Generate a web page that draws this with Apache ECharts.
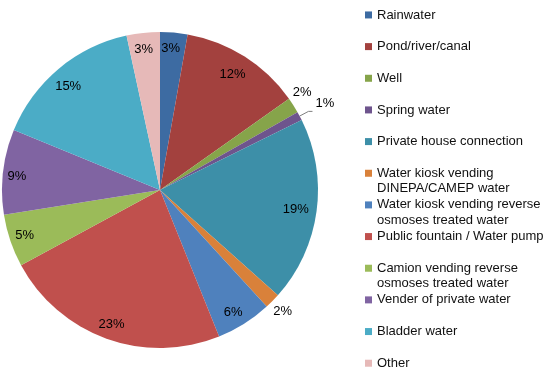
<!DOCTYPE html>
<html>
<head>
<meta charset="utf-8">
<script src="https://cdn.jsdelivr.net/npm/echarts@6/dist/echarts.min.js"></script>
<style>
html,body{margin:0;padding:0;background:#fff;}
#chart{width:552px;height:375px;}
</style>
</head>
<body>
<div id="chart"></div>
<script>
// ---- data ----
const categories = [
  'Rainwater',
  'Pond/river/canal',
  'Well',
  'Spring water',
  'Private house connection',
  'Water kiosk vending DINEPA/CAMEP water',
  'Water kiosk vending reverse osmoses treated water',
  'Public fountain / Water pump',
  'Camion vending reverse osmoses treated water',
  'Vender of private water',
  'Bladder water',
  'Other'
];
const legendLabels = [
  'Rainwater',
  'Pond/river/canal',
  'Well',
  'Spring water',
  'Private house connection',
  'Water kiosk vending\nDINEPA/CAMEP water',
  'Water kiosk vending reverse\nosmoses treated water',
  'Public fountain / Water pump',
  'Camion vending reverse\nosmoses treated water',
  'Vender of private water',
  'Bladder water',
  'Other'
];
const shares = [2.8, 12.4, 1.6, 0.9, 18.9, 1.6, 5.7, 23.2, 5.4, 8.7, 15.4, 3.4];

// ---- styles ----
const colors = ['#3D6BA2','#A3413E','#86A44A','#6E548D','#3D8FA8','#D9813A',
                '#4F81BD','#C0504D','#9BBB59','#8064A2','#4BACC6','#E6B9B8'];
const outsideSet = [2, 3, 5];
const outsideShift = {2: [-9, -11], 3: [-2, -8], 5: [-7, 8]};
const outsideLine = {2: [4, 0], 3: [10, 4], 5: [4, 0]};
const insideShift = {0: [-2, 1], 1: [-4, 5], 4: [-6, 0], 6: [-3, 1], 9: [-1, 3], 10: [0, 6], 11: [-1, 2]};
const FONT = 'Liberation Sans, Arial, sans-serif';
const CENTER = [160, 190];
const R = 158;

const pct = p => Math.round(p.percent) + '%';

const mainData = categories.map((name, i) => {
  const out = outsideSet.indexOf(i) >= 0;
  return {
    name: name,
    value: shares[i],
    itemStyle: { color: colors[i] },
    label: { show: out },
    labelLine: out ? { show: i === 3, length: outsideLine[i][0], length2: outsideLine[i][1] } : { show: false }
  };
});
const overlayData = categories.map((name, i) => ({
  name: name,
  value: shares[i],
  label: { show: outsideSet.indexOf(i) < 0 }
}));

const legendMap = {};
categories.forEach((c, i) => {
  const l = legendLabels[i];
  legendMap[c] = ' \n' + (l.indexOf('\n') >= 0 ? l : l + '\n ');
});

const chart = echarts.init(document.getElementById('chart'), null, { renderer: 'canvas' });
chart.setOption({
  backgroundColor: '#ffffff',
  animation: false,
  legend: {
    orient: 'vertical',
    left: 365,
    top: -8,
    height: 440,
    padding: 0,
    itemGap: -14.24,
    itemWidth: 7,
    itemHeight: 7,
    icon: 'rect',
    selectedMode: false,
    data: categories,
    formatter: name => legendMap[name],
    textStyle: { fontFamily: FONT, fontSize: 13, color: '#111', lineHeight: 15.3 }
  },
  series: [
    {
      type: 'pie',
      center: CENTER,
      radius: [0, R],
      startAngle: 90,
      clockwise: true,
      avoidLabelOverlap: false,
      silent: true,
      itemStyle: { borderWidth: 0 },
      emphasis: { disabled: true },
      label: {
        position: 'outside',
        formatter: pct,
        fontFamily: FONT,
        fontSize: 13,
        color: '#000'
      },
      labelLine: { lineStyle: { color: '#7f7f7f', width: 1 } },
      labelLayout: p => {
        const s = outsideShift[p.dataIndex];
        return s ? { dx: s[0], dy: s[1] } : {};
      },
      data: mainData
    },
    {
      type: 'pie',
      center: CENTER,
      radius: [R - 36, R],
      startAngle: 90,
      clockwise: true,
      silent: true,
      avoidLabelOverlap: false,
      emphasis: { disabled: true },
      itemStyle: { color: 'rgba(0,0,0,0)', borderWidth: 0 },
      label: {
        position: 'inside',
        formatter: pct,
        fontFamily: FONT,
        fontSize: 13,
        color: '#000'
      },
      labelLine: { show: false },
      labelLayout: p => {
        const s = insideShift[p.dataIndex];
        return s ? { dx: s[0], dy: s[1] } : {};
      },
      data: overlayData
    }
  ]
});
</script>
</body>
</html>
